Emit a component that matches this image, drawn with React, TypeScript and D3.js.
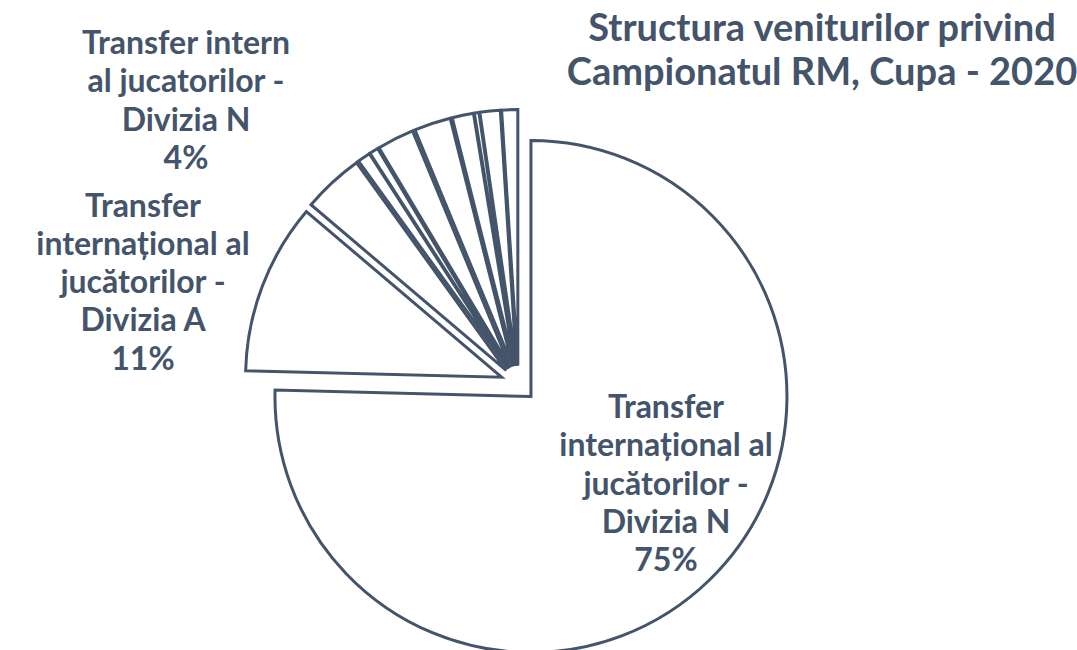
import React from "react";
import * as d3 from "d3";

// ---- data ----
const categories = [
  "Transfer internațional al jucătorilor - Divizia N",
  "Transfer internațional al jucătorilor - Divizia A",
  "Transfer intern al jucatorilor - Divizia N",
  "Alte venituri 1",
  "Alte venituri 2",
  "Alte venituri 3",
  "Alte venituri 4",
  "Alte venituri 5",
  "Alte venituri 6",
  "Alte venituri 7",
  "Alte venituri 8",
];
const values = [75.4, 10.8, 3.86, 0.81, 0.56, 2.33, 2.31, 1.35, 0.29, 1.28, 1.01];
// label text lines (category wrapped as shown); null = no label
const labelLines: (string[] | null)[] = [
  ["Transfer", "internațional al", "jucătorilor -", "Divizia N"],
  ["Transfer", "internațional al", "jucătorilor -", "Divizia A"],
  ["Transfer intern", "al jucatorilor -", "Divizia N"],
  null, null, null, null, null, null, null, null,
];
const titleLines = ["Structura veniturilor privind", "Campionatul RM, Cupa - 2020"];

// ---- layout ----
const W = 1077;
const H = 650;
const CX = 518.4;
const CY = 383.6;
const R = 256;
const EXPLODE = 18;
const COLOR = "#44546A";
const FONT = "Lato, 'Open Sans', sans-serif";
const FS = 32;
const LH = 38.3;
const TITLE_FS = 38;
// label anchor (center x, first baseline y)
const labelAnchors: ([number, number] | null)[] = [
  [666, 418],
  [143, 216.5],
  [186, 54],
  null, null, null, null, null, null, null, null,
];

export default function App() {
  const total = d3.sum(values);
  const pie = d3
    .pie<number>()
    .sort(null)
    .startAngle(0)
    .endAngle(2 * Math.PI)
    .value((d) => d);
  const arcs = pie(values);
  const arcGen = d3.arc<d3.PieArcDatum<number>>().innerRadius(0).outerRadius(R);

  return (
    <svg
      width={W}
      height={H}
      style={{ position: "absolute", left: 0, top: 0, background: "#fff" }}
    >
      <g transform={`translate(${CX},${CY})`}>
        {arcs.map((a, i) => {
          const mid = (a.startAngle + a.endAngle) / 2;
          const dx = EXPLODE * Math.sin(mid);
          const dy = -EXPLODE * Math.cos(mid);
          return (
            <path
              key={categories[i]}
              d={arcGen(a) || ""}
              transform={`translate(${dx},${dy})`}
              fill="#fff"
              stroke={COLOR}
              strokeWidth={3}
              strokeLinejoin="miter"
            />
          );
        })}
      </g>
      {arcs.map((a, i) => {
        const lines = labelLines[i];
        const anchor = labelAnchors[i];
        if (!lines || !anchor) return null;
        const pct = `${Math.round((values[i] / total) * 100)}%`;
        const all = [...lines, pct];
        return (
          <text
            key={"l" + i}
            x={anchor[0]}
            y={anchor[1]}
            textAnchor="middle"
            fontFamily={FONT}
            fontWeight={700}
            fontSize={FS}
            fill={COLOR}
          >
            {all.map((t, j) => (
              <tspan key={j} x={anchor[0]} y={anchor[1] + j * LH}>
                {t}
              </tspan>
            ))}
          </text>
        );
      })}
      <text
        textAnchor="middle"
        fontFamily={FONT}
        fontWeight={700}
        fontSize={TITLE_FS}
        fill={COLOR}
      >
        {titleLines.map((t, j) => (
          <tspan key={j} x={822} y={41 + j * 44}>
            {t}
          </tspan>
        ))}
      </text>
    </svg>
  );
}
